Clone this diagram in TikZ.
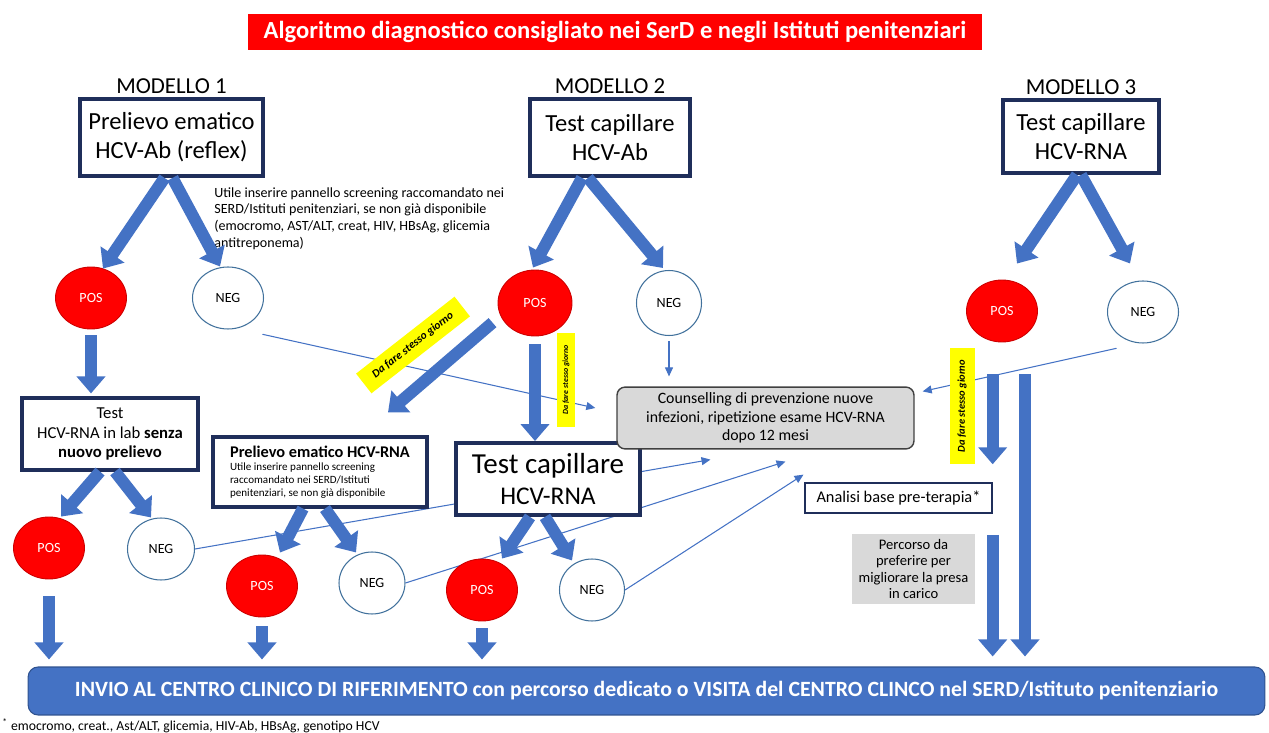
\documentclass[tikz,border=0pt]{standalone}
\usepackage{fontspec}
\setmainfont{Carlito}
\usetikzlibrary{shapes.geometric,arrows.meta,positioning,calc,backgrounds}
\definecolor{hcvBlue}{HTML}{4472C4}
\definecolor{hcvBlueDark}{HTML}{2F528F}
\definecolor{hcvNavy}{HTML}{1F2E5A}
\definecolor{hcvRed}{HTML}{FF0000}
\definecolor{hcvLine}{HTML}{41719C}
\definecolor{hcvGray}{HTML}{D9D9D9}
\definecolor{hcvYellow}{HTML}{FFFF00}

\begin{document}
\begin{tikzpicture}[x=0.02cm, y=-0.02cm]
\tikzset{
  tt/.style={rectangle, fill=hcvRed, text=white, font=\fontsize{14}{16}\selectfont\bfseries,
             minimum width=14.68cm, minimum height=0.72cm, inner sep=0pt},
  mb/.style={rectangle, draw=hcvNavy, line width=2.2pt, fill=white, align=center,
             inner sep=2pt, font=\fontsize{14}{16.5}\selectfont},
  ml/.style={font=\fontsize{13}{15}\selectfont, inner sep=1pt},
  sb/.style={rectangle, draw=hcvNavy, line width=1.8pt, fill=white, align=center, inner sep=2pt},
  pe/.style={ellipse, draw=hcvRed!80!black, line width=0.5pt, fill=hcvRed, text=white,
             minimum width=1.42cm, minimum height=1.24cm, font=\fontsize{8}{9}\selectfont, inner sep=0pt},
  ne/.style={ellipse, draw=hcvLine, line width=0.6pt, fill=white,
             minimum width=1.42cm, minimum height=1.24cm, font=\fontsize{8}{9}\selectfont, inner sep=0pt},
  cb/.style={rectangle, rounded corners=0.16cm, draw=black!75, line width=0.8pt, fill=hcvGray,
             minimum width=5.94cm, minimum height=1.2cm, align=center, font=\fontsize{9}{10.4}\selectfont},
  ab/.style={rectangle, draw=hcvNavy, line width=0.8pt, fill=white,
             minimum width=3.74cm, minimum height=0.6cm, font=\fontsize{9.3}{11}\selectfont},
  gb/.style={rectangle, fill=hcvGray, minimum width=2.46cm, minimum height=1.36cm,
             align=center, font=\fontsize{8.3}{9.2}\selectfont},
  yl/.style={fill=hcvYellow, inner sep=1pt, align=center},
  nt/.style={align=left, font=\fontsize{8}{9.6}\selectfont, inner sep=0pt},
  bar/.style={rectangle, rounded corners=0.2cm, draw=hcvBlueDark, line width=0.6pt, fill=hcvBlue,
              text=white, font=\fontsize{12.4}{14}\selectfont\bfseries,
              minimum width=24.74cm, minimum height=0.96cm},
  ba/.style={-{Triangle[length=0.34cm, width=0.56cm]}, draw=hcvBlue, line width=0.24cm},
  ta/.style={-{Triangle[length=1.8mm, width=1.6mm]}, draw=hcvBlue, line width=0.6pt}
}
\useasboundingbox (0,0) rectangle (1269,733);

% Title
\node[tt] (title) at (615,32) {Algoritmo diagnostico consigliato nei SerD e negli Istituti penitenziari};

% First tests
\node[mb, minimum width=3.66cm, minimum height=1.54cm] (box1) at (171.5,137.5) {Prelievo ematico\\HCV-Ab (reflex)};
\node[mb, minimum width=3.2cm, minimum height=1.54cm] (box2) at (610,137.5) {Test capillare\\HCV-Ab};
\node[mb, minimum width=3.12cm, minimum height=1.46cm] (box3) at (1081,136.5) {Test capillare\\HCV-RNA};
\node[ml, above=1pt of box1] (mod1) {MODELLO 1};
\node[ml, above=1pt of box2] (mod2) {MODELLO 2};
\node[ml, above=1pt of box3] (mod3) {MODELLO 3};

\node[nt, anchor=north west] (note1) at (214,187)
 {Utile inserire pannello screening raccomandato nei\\SERD/Istituti penitenziari, se non già disponibile\\(emocromo, AST/ALT, creat, HIV, HBsAg, glicemia\\antitreponema)};

% Results
\node[pe] (pos1) at (91,298) {POS};
\node[ne] (neg1) at (228,298) {NEG};
\node[pe, minimum width=1.48cm, minimum height=1.32cm] (pos2) at (535,303) {POS};
\node[ne, minimum width=1.3cm, minimum height=1.3cm] (neg2) at (669,303) {NEG};
\node[pe] (pos3) at (1002,311) {POS};
\node[ne] (neg3) at (1143,312) {NEG};

% Second tests
\node[sb, minimum width=3.52cm, minimum height=1.44cm, font=\fontsize{9.5}{11}\selectfont] (test1) at (110,434)
 {Test\\HCV-RNA in lab \textbf{senza}\\\textbf{nuovo prelievo}};
\node[sb, minimum width=4.28cm, minimum height=1.4cm, align=left, font=\fontsize{6.3}{7.4}\selectfont] (prel2) at (320,472)
 {{\fontsize{9.3}{11}\selectfont\bfseries Prelievo ematico HCV-RNA}\\
  Utile inserire pannello screening\\raccomandato nei SERD/Istituti\\penitenziari, se non già disponibile};
\node[sb, minimum width=3.68cm, minimum height=1.44cm, line width=2.2pt, font=\fontsize{14.5}{18}\selectfont] (test2) at (548,479)
 {{\fontsize{16.5}{18}\selectfont Test capillare}\\HCV-RNA};

\node[pe] (pos4) at (49,548) {POS};
\node[ne, minimum width=1.34cm] (neg4) at (161,549) {NEG};
\node[pe] (pos5) at (262,586) {POS};
\node[ne, minimum width=1.32cm] (neg5) at (372,583) {NEG};
\node[pe] (pos6) at (482,590) {POS};
\node[ne, minimum width=1.3cm] (neg6) at (592,590) {NEG};

% Right side
\node[cb] (couns) at (765.5,418) {Counselling di prevenzione nuove\\infezioni, ripetizione esame HCV-RNA\\dopo 12 mesi};
\node[ab] (analisi) at (898.5,498) {Analisi base pre-terapia*};
\node[gb] (perc) at (913.5,569) {Percorso da\\preferire per\\migliorare la presa\\in carico};

% Same-day labels
\node[yl, rotate=38, minimum width=2.5cm, minimum height=0.5cm, font=\fontsize{6.5}{7}\selectfont\bfseries\itshape] (y1) at (413,345) {Da fare stesso giorno};
\node[yl, rotate=90, minimum width=1.9cm, minimum height=0.36cm, font=\fontsize{4.5}{5}\selectfont\bfseries\itshape] (y2) at (566,380) {Da fare stesso giorno};
\node[yl, rotate=90, minimum width=2.34cm, minimum height=0.5cm, font=\fontsize{6}{7}\selectfont\bfseries\itshape] (y3) at (962,406) {Da fare stesso giorno};

% Bottom bar and footnote
\node[bar] (bar) at (646.5,691) {INVIO AL CENTRO CLINICO DI RIFERIMENTO con percorso dedicato o VISITA del CENTRO CLINCO nel SERD/Istituto penitenziario};
\node[anchor=west, inner sep=0pt, font=\fontsize{7.8}{9}\selectfont] (fn) at (2,726)
 {\textsuperscript{*} emocromo, creat., Ast/ALT, glicemia, HIV-Ab, HBsAg, genotipo HCV};

% Thin arrows to counselling (behind boxes)
\begin{scope}[on background layer]
\draw[ta] ($(neg1.south east)+(9,14)$) -- ($(couns.west)+(-21,-10)$);
\draw[ta, shorten <=0.1cm, shorten >=0.2cm] (neg2.south) -- (neg2.south |- couns.north);
\draw[ta] ($(neg3.south west)+(-1,14)$) -- ($(couns.north east)+(8,5)$);
\draw[ta] (neg4.east) -- ($(couns.south)+(-55,10)$);
\draw[ta] (neg5.east) -- ($(couns.south)+(20,12)$);
\draw[ta] (neg6.east) -- ($(couns.south)+(38,25)$);
\end{scope}

% Model 1
\draw[ba] ($(box1.south)+(-7,0)$) -- ($(pos1.north)+(12,2)$);
\draw[ba] ($(box1.south)+(1,0)$) -- ($(neg1.north)+(-8,0)$);
\draw[ba, shorten <=0.12cm, shorten >=0.06cm] (pos1.south) -- (pos1.south |- test1.north);
\draw[ba] ($(test1.south)+(-10,0)$) -- ($(pos4.north)+(12,0)$);
\draw[ba] ($(test1.south)+(5,0)$) -- ($(neg4.north)+(-10,0)$);
\draw[ba, shorten <=0.34cm, shorten >=0.14cm] (pos4.south) -- (pos4.south |- bar.north);

% Model 2
\draw[ba] ($(box2.south)+(-28,0)$) -- ($(pos2.north)+(-2,-2)$);
\draw[ba] ($(box2.south)+(-22,0)$) -- ($(neg2.north)+(-6,-2)$);
\draw[ba] ($(pos2.south west)+(-16,-4)$) -- ($(prel2.north)+(68,-23)$);
\draw[ba, shorten <=0.16cm] (pos2.south) -- (pos2.south |- test2.north);
\draw[ba] ($(prel2.south)+(-17,0)$) -- ($(pos5.north)+(18,-2)$);
\draw[ba] ($(prel2.south)+(5,0)$) -- ($(neg5.north)+(-16,1)$);
\draw[ba, shorten <=0.18cm, shorten >=0.14cm] (pos5.south) -- (pos5.south |- bar.north);
\draw[ba] ($(test2.south)+(-18,0)$) -- ($(pos6.north)+(20,0)$);
\draw[ba] ($(test2.south)+(-3,0)$) -- ($(neg6.north)+(-20,2)$);
\draw[ba, shorten <=0.14cm, shorten >=0.14cm] (pos6.south) -- (pos6.south |- bar.north);

% Model 3
\draw[ba] ($(box3.south)+(-4,0)$) -- ($(pos3.north)+(15,-16)$);
\draw[ba] (box3.south) -- ($(neg3.north)+(-13,-17)$);
\draw[ba, shorten <=0.64cm, shorten >=0.36cm] (analisi.east |- pos3.south) -- (analisi.north east);
\draw[ba, shorten <=0.74cm, shorten >=0.2cm] (analisi.east) -- (analisi.east |- bar.north);
\coordinate (p3r) at ($(pos3.south)+(23,32)$);
\draw[ba, shorten >=0.2cm] (p3r) -- (p3r |- bar.north);
\end{tikzpicture}
\end{document}
